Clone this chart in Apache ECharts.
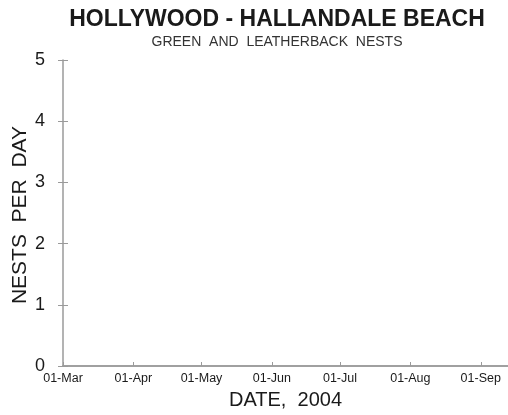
<!DOCTYPE html>
<html>
<head>
<meta charset="utf-8">
<script src="https://cdn.jsdelivr.net/npm/echarts@6/dist/echarts.min.js"></script>
<style>
  html, body { margin: 0; padding: 0; background: #fff; }
  #chart { width: 508px; height: 415px; }
</style>
</head>
<body>
<div id="chart"></div>
<script>
// days counted from 01-Mar-2004
const tickDays = [0, 31, 61, 92, 122, 153, 184]
const tickLabels = ['01-Mar', '01-Apr', '01-May', '01-Jun', '01-Jul', '01-Aug', '01-Sep']
const yTicks = [0, 1, 2, 3, 4, 5]
// no green or leatherback nests were recorded: [day, nests]
const nests = []

const font = 'Liberation Sans, Arial, sans-serif'
const axisColor = '#9a9a9a'
const textColor = '#1a1a1a'

const myChart = echarts.init(document.getElementById('chart'))
myChart.setOption({
  animation: false,
  graphic: [{
    type: 'text',
    x: 277,
    y: 20,
    style: {
      text: 'HOLLYWOOD - HALLANDALE BEACH',
      font: 'bold 23px ' + font,
      fill: textColor,
      textAlign: 'center',
      textVerticalAlign: 'middle'
    }
  }, {
    type: 'text',
    x: 277,
    y: 42,
    style: {
      text: 'GREEN  AND  LEATHERBACK  NESTS',
      font: '14px ' + font,
      fill: '#333',
      textAlign: 'center',
      textVerticalAlign: 'middle'
    }
  }, {
    type: 'text',
    x: 20,
    y: 215,
    rotation: Math.PI / 2,
    style: {
      text: 'NESTS  PER  DAY',
      font: '21px ' + font,
      fill: textColor,
      textAlign: 'center',
      textVerticalAlign: 'middle'
    }
  }],
  grid: { left: 63, right: 0, top: 60, bottom: 45 },
  xAxis: [{
    type: 'value',
    min: 0,
    max: 196,
    name: 'DATE,  2004',
    nameLocation: 'middle',
    nameGap: 24,
    nameTextStyle: { fontFamily: font, fontSize: 20, color: textColor },
    splitLine: { show: false },
    axisLine: { lineStyle: { color: axisColor, width: 1.5 } },
    axisTick: { inside: true, length: 4, customValues: tickDays, lineStyle: { color: axisColor } },
    axisLabel: {
      customValues: tickDays,
      formatter: v => tickLabels[tickDays.indexOf(v)],
      fontFamily: font,
      fontSize: 12.5,
      color: textColor,
      margin: 6
    }
  }, {
    type: 'value',
    position: 'top',
    min: 0,
    max: 196,
    splitLine: { show: false },
    axisLine: { show: true, lineStyle: { color: axisColor, width: 1.5 } },
    axisTick: { show: false },
    axisLabel: { show: false }
  }],
  yAxis: [{
    type: 'value',
    min: 0,
    max: 5,
    interval: 1,
    splitLine: { show: false },
    axisLine: { show: true, lineStyle: { color: axisColor, width: 1.5 } },
    axisTick: { show: true, length: 5, lineStyle: { color: axisColor } },
    axisLabel: {
      formatter: v => (yTicks.includes(v) ? String(v) : ''),
      fontFamily: font,
      fontSize: 18,
      color: textColor,
      margin: 18
    }
  }, {
    type: 'value',
    min: 0,
    max: 5,
    interval: 1,
    position: 'left',
    splitLine: { show: false },
    axisLine: { show: false },
    axisTick: { show: true, inside: true, length: 5, lineStyle: { color: axisColor } },
    axisLabel: { show: false }
  }],
  series: [{
    type: 'line',
    name: 'Nests',
    data: nests,
    symbol: 'none',
    lineStyle: { color: '#000', width: 1 }
  }]
})
</script>
</body>
</html>
